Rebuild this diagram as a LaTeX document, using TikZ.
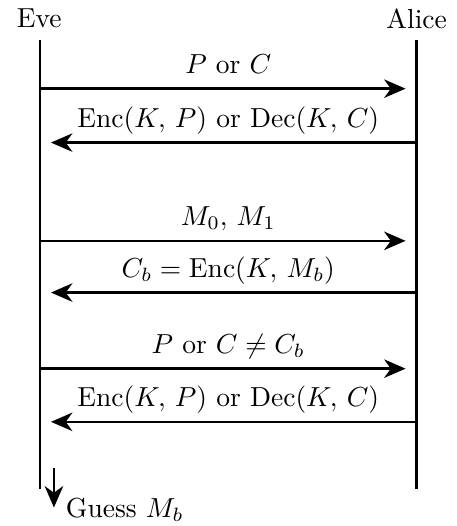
\RequirePackage{fix-cm}
\documentclass[tikz,border=0pt]{standalone}
\usepackage{fontspec}
\usetikzlibrary{arrows.meta}
\tikzset{
  lifeline/.style={line width=0.9pt},
  msg arrow/.style={-{Stealth[length=2.9mm,width=2.5mm,inset=0.9mm]}, line width=0.9pt,
    shorten >=1.5mm},
  msg label/.style={above, inner sep=2.5pt, text depth=3pt}
}

\begin{document}
\begin{tikzpicture}[font=\fontsize{10.6}{13}\selectfont]
    \useasboundingbox (0,0) rectangle (6.18,-7.12);
    \node (eve) at (0.53,-0.25) {Eve};
    \node (alice) at (5.64,-0.25) {Alice};
    \coordinate (eve top) at (0.54,-0.54);
    \coordinate (eve bot) at (0.54,-6.62);
    \coordinate (alice top) at (5.64,-0.54);
    \coordinate (alice bot) at (5.64,-6.62);
    \draw[lifeline] (eve top) -- (eve bot);
    \draw[lifeline] (alice top) -- (alice bot);
    % message rows
    \foreach \i/\y in {1/1.20,2/1.93,3/3.26,4/3.96,5/4.99,6/5.71} {
      \coordinate (e\i) at (0.54,-\y);
      \coordinate (a\i) at (5.64,-\y);
    }
    \draw[msg arrow] (e1) -- node[msg label] {$P$ or $C$} (a1);
    \draw[msg arrow] (a2) -- node[msg label] {$\mathrm{Enc}(K,\,P)$ or $\mathrm{Dec}(K,\,C)$} (e2);
    \draw[msg arrow] (e3) -- node[msg label] {$M_0,\,M_1$} (a3);
    \draw[msg arrow] (a4) -- node[msg label] {$C_b=\mathrm{Enc}(K,\,M_b)$} (e4);
    \draw[msg arrow] (e5) -- node[msg label] {$P$ or $C\neq C_b$} (a5);
    \draw[msg arrow] (a6) -- node[msg label] {$\mathrm{Enc}(K,\,P)$ or $\mathrm{Dec}(K,\,C)$} (e6);
    % final guess
    \coordinate (g0) at (0.73,-6.33);
    \coordinate (g1) at (0.73,-6.87);
    \node[anchor=west, inner sep=1pt] (guess) at (0.85,-6.90) {Guess $M_b$};
    \draw[msg arrow, shorten >=0pt] (g0) -- (g1);
\end{tikzpicture}
\end{document}
